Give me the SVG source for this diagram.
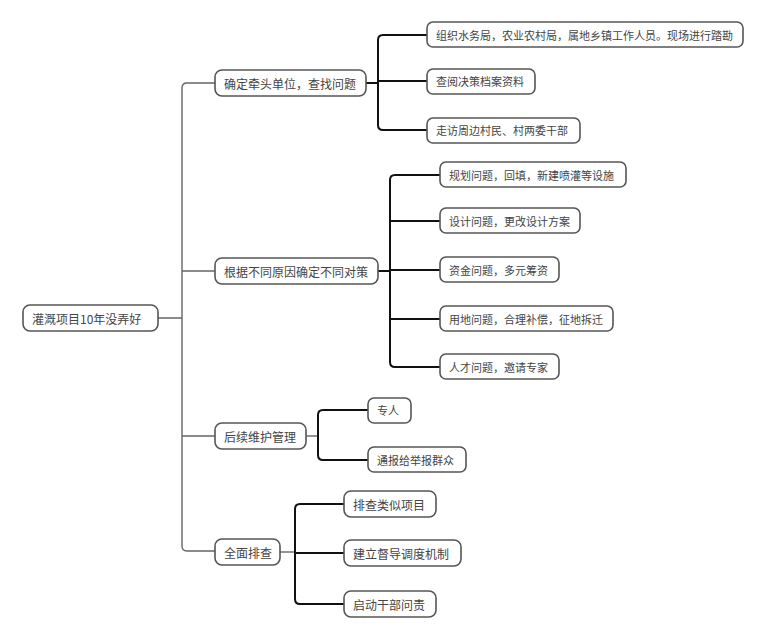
<svg xmlns="http://www.w3.org/2000/svg" width="766" height="640" viewBox="0 0 766 640">
<style>
.b{fill:#fff;stroke:#555;stroke-width:1.6}
.t{font-family:"Noto Sans CJK SC","Liberation Sans",sans-serif;font-size:12px;fill:#444;dominant-baseline:central}
.c1{fill:none;stroke:#666;stroke-width:1.4}
.c2{fill:none;stroke:#111;stroke-width:2}
</style>
<rect width="766" height="640" fill="#fff"/>
<g id="connectors">
<path class="c1" d="M158 318H182M215 83H187Q182 83 182 88V546Q182 551 187 551H215M182 271H215M182 436H215"/>
<path class="c2" d="M366 83H378M427 35H383Q378 35 378 40V125Q378 130 383 130H427M378 81H427"/>
<path class="c2" d="M378 271H390M440 175H395Q390 175 390 180V362Q390 367 395 367H440M390 221H440M390 270H440M390 319H440"/>
<path class="c1" d="M306 436H318"/><path class="c2" d="M368 410H323Q318 410 318 415V455Q318 460 323 460H368"/>
<path class="c1" d="M280 552H295"/><path class="c2" d="M344 504H300Q295 504 295 509V599Q295 604 300 604H344M295 553H344"/>
</g>
<g id="root"><rect class="b" x="23" y="305" width="135" height="26" rx="7"/><text class="t" x="32" y="318">灌溉项目10年没弄好</text></g>
<g id="n1"><rect class="b" x="215" y="70" width="151" height="26" rx="7"/><text class="t" x="224" y="83">确定牵头单位，查找问题</text></g>
<g id="n2"><rect class="b" x="215" y="258" width="163" height="26" rx="7"/><text class="t" x="224" y="271">根据不同原因确定不同对策</text></g>
<g id="n3"><rect class="b" x="215" y="423" width="91" height="26" rx="7"/><text class="t" x="224" y="436">后续维护管理</text></g>
<g id="n4"><rect class="b" x="215" y="539" width="65" height="26" rx="7"/><text class="t" x="224" y="552">全面排查</text></g>
<g id="n1a"><rect class="b" x="427" y="22" width="316" height="25" rx="6"/><text class="t" x="436" y="35" style="font-size:11px">组织水务局，农业农村局，属地乡镇工作人员。现场进行踏勘</text></g>
<g id="n1b"><rect class="b" x="427" y="69" width="108" height="25" rx="6"/><text class="t" x="436" y="81" style="font-size:11px">查阅决策档案资料</text></g>
<g id="n1c"><rect class="b" x="427" y="118" width="153" height="25" rx="6"/><text class="t" x="436" y="130" style="font-size:11px">走访周边村民、村两委干部</text></g>
<g id="n2a"><rect class="b" x="440" y="162" width="186" height="25" rx="6"/><text class="t" x="449" y="175" style="font-size:11px">规划问题，回填，新建喷灌等设施</text></g>
<g id="n2b"><rect class="b" x="440" y="208" width="140" height="25" rx="6"/><text class="t" x="449" y="221" style="font-size:11px">设计问题，更改设计方案</text></g>
<g id="n2c"><rect class="b" x="440" y="257" width="119" height="25" rx="6"/><text class="t" x="449" y="270" style="font-size:11px">资金问题，多元筹资</text></g>
<g id="n2d"><rect class="b" x="440" y="306" width="173" height="25" rx="6"/><text class="t" x="449" y="319" style="font-size:11px">用地问题，合理补偿，征地拆迁</text></g>
<g id="n2e"><rect class="b" x="440" y="354" width="119" height="25" rx="6"/><text class="t" x="449" y="367" style="font-size:11px">人才问题，邀请专家</text></g>
<g id="n3a"><rect class="b" x="368" y="398" width="43" height="25" rx="6"/><text class="t" x="377" y="410" style="font-size:11px">专人</text></g>
<g id="n3b"><rect class="b" x="368" y="447" width="98" height="25" rx="6"/><text class="t" x="377" y="460" style="font-size:11px">通报给举报群众</text></g>
<g id="n4a"><rect class="b" x="344" y="491" width="92" height="26" rx="7"/><text class="t" x="353" y="504">排查类似项目</text></g>
<g id="n4b"><rect class="b" x="344" y="540" width="117" height="26" rx="7"/><text class="t" x="353" y="553">建立督导调度机制</text></g>
<g id="n4c"><rect class="b" x="344" y="591" width="92" height="26" rx="7"/><text class="t" x="353" y="604">启动干部问责</text></g>
</svg>
